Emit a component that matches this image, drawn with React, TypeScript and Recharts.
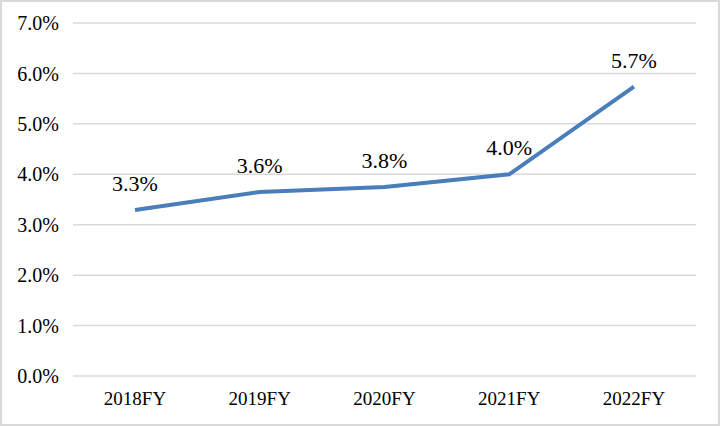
import React from "react";
import { LineChart, Line, XAxis, YAxis, CartesianGrid, LabelList } from "recharts";

const categories = ["2018FY", "2019FY", "2020FY", "2021FY", "2022FY"];
const values = [3.29, 3.65, 3.75, 4.0, 5.74];
const labels = ["3.3%", "3.6%", "3.8%", "4.0%", "5.7%"];
const yTicks = [0, 1, 2, 3, 4, 5, 6, 7];

const data = categories.map((c, i) => ({ name: c, value: values[i], label: labels[i] }));

const FONT = "'Liberation Serif', 'Times New Roman', serif";

const YTick = (props: any) => {
  const { x, y, payload } = props;
  return (
    <text x={x} y={y} dy="0.355em" textAnchor="end" fill="#000" fontSize={20} fontFamily={FONT}>
      {`${Number(payload.value).toFixed(1)}%`}
    </text>
  );
};

const XTick = (props: any) => {
  const { x, y, payload } = props;
  return (
    <text x={x} y={y} dy="0.71em" textAnchor="middle" fill="#000" fontSize={19} fontFamily={FONT}>
      {payload.value}
    </text>
  );
};

const PointLabel = (props: any) => {
  const { x, y, value } = props;
  return (
    <text x={x} y={y - 19} textAnchor="middle" fill="#000" fontSize={22} fontFamily={FONT}>
      {value}
    </text>
  );
};

export default function App() {
  return (
    <div
      style={{
        position: "absolute",
        left: 0,
        top: 0,
        width: 720,
        height: 426,
        boxSizing: "border-box",
        border: "2px solid #d9d9d9",
        background: "#fff",
        fontFamily: FONT,
      }}
    >
      <LineChart
        width={716}
        height={422}
        data={data}
        margin={{ top: 21, right: 22, bottom: 0, left: 0 }}
      >
        <CartesianGrid vertical={false} stroke="#d9d9d9" strokeWidth={1.5} />
        <XAxis
          dataKey="name"
          height={48}
          axisLine={false}
          tickLine={false}
          tickSize={0}
          tickMargin={16}
          padding={{ left: 62, right: 62 }}
          tick={<XTick />}
        />
        <YAxis
          width={71}
          domain={[0, 7]}
          ticks={yTicks}
          axisLine={false}
          tickLine={false}
          tickSize={0}
          tickMargin={14}
          tick={<YTick />}
        />
        <Line
          type="linear"
          dataKey="value"
          stroke="#4a7ebb"
          strokeWidth={4}
          dot={false}
          isAnimationActive={false}
        >
          <LabelList dataKey="label" content={<PointLabel />} />
        </Line>
      </LineChart>
    </div>
  );
}
